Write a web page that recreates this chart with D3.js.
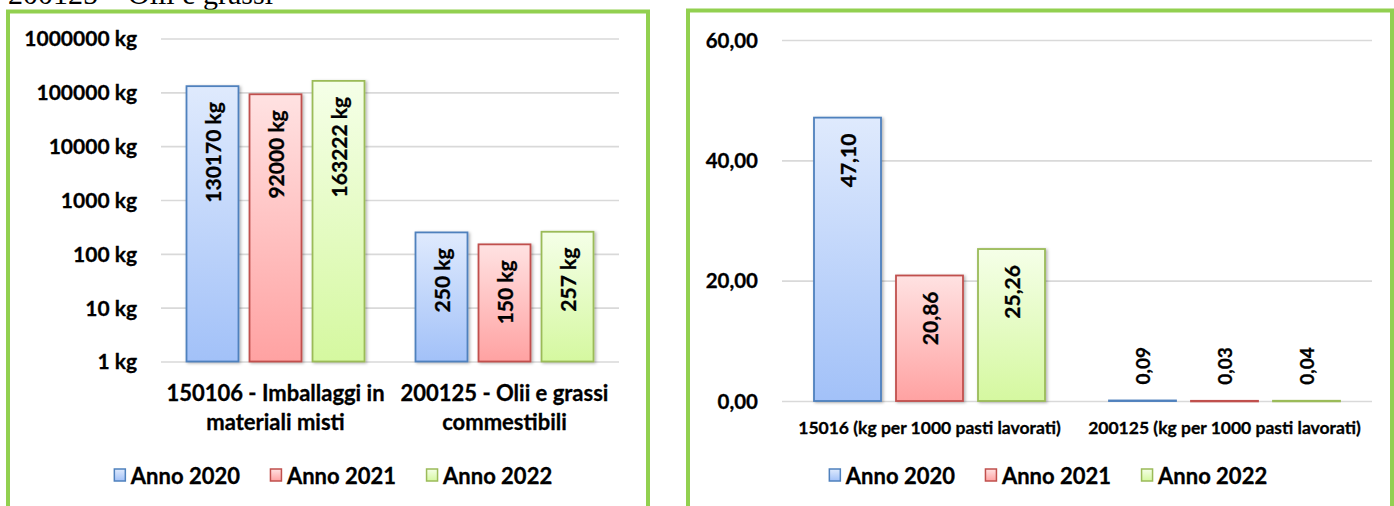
<!DOCTYPE html>
<html><head><meta charset="utf-8">
<script src="https://cdn.jsdelivr.net/npm/d3@7/dist/d3.min.js"></script>
<style>
html,body{margin:0;padding:0;background:#fff;}
svg{display:block;font-family:Lato,"Open Sans",sans-serif;}
.bt{stroke:#000;stroke-width:0.3px;}
</style></head>
<body>
<svg id="c" width="1394" height="506"></svg>
<script>
// ---------- data ----------
const series = ["Anno 2020", "Anno 2021", "Anno 2022"];
const kgCategories = [["150106 - Imballaggi in", "materiali misti"], ["200125 - Olii e grassi", "commestibili"]];
const kg2020 = [130170, 250];
const kg2021 = [92000, 150];
const kg2022 = [163222, 257];
const kgTicks = [1, 10, 100, 1000, 10000, 100000, 1000000];

const rateCategories = [["15016 (kg per 1000 pasti lavorati)"], ["200125 (kg per 1000 pasti lavorati)"]];
const rate2020 = [47.10, 0.09];
const rate2021 = [20.86, 0.03];
const rate2022 = [25.26, 0.04];
const rateTicks = [0, 20, 40, 60];

const headingText = "200125 \u2013 Olii e grassi";

// ---------- styles ----------
const fills = [["#dfeafd", "#a2c1f8"], ["#ffe2e2", "#ffa2a2"], ["#f5ffe8", "#d5f8a0"]];
const strokes = ["#4f81bd", "#c0504d", "#9bbb59"];
const itLocale = d3.formatLocale({decimal: ",", thousands: ".", grouping: [3], currency: ["", "€"]});
const f2 = itLocale.format(".2f");

const svg = d3.select("#c");
const defs = svg.append("defs");
fills.forEach((c, i) => {
  const g = defs.append("linearGradient").attr("id", "g" + i).attr("x1", 0).attr("y1", 0).attr("x2", 0).attr("y2", 1);
  g.append("stop").attr("offset", "0%").attr("stop-color", c[0]);
  g.append("stop").attr("offset", "100%").attr("stop-color", c[1]);
});
const sh = defs.append("filter").attr("id", "sh").attr("x", "-20%").attr("y", "-20%").attr("width", "140%").attr("height", "140%");
sh.append("feDropShadow").attr("dx", 1.5).attr("dy", 1).attr("stdDeviation", 1.5).attr("flood-color", "#000").attr("flood-opacity", 0.3);

svg.append("rect").attr("width", 1394).attr("height", 506).attr("fill", "#fff");

// heading text of the surrounding document, cut at the top as in the reference
svg.append("text").attr("x", 8).attr("y", 4).attr("font-family", "'Liberation Serif','Times New Roman',serif")
  .attr("font-size", 30).attr("fill", "#000").text(headingText);

// panel borders
svg.append("rect").attr("x", 8).attr("y", 11.5).attr("width", 640).attr("height", 520)
  .attr("fill", "none").attr("stroke", "#92d050").attr("stroke-width", 4);
svg.append("rect").attr("x", 688).attr("y", 10.5).attr("width", 704).attr("height", 520)
  .attr("fill", "none").attr("stroke", "#92d050").attr("stroke-width", 4);

function drawChart(cfg) {
  const g = svg.append("g");
  const x0 = d3.scaleBand().domain(d3.range(cfg.categories.length)).range([cfg.x0, cfg.x1]).padding(0);
  const gw = cfg.groupWidth;
  const off = (x0.bandwidth() - gw) / 2;
  const x1 = d3.scaleBand().domain(d3.range(series.length)).range([off, off + gw]).paddingInner(cfg.pin).paddingOuter(0);
  const y = cfg.y;

  // gridlines + tick labels
  const ax = g.append("g").attr("transform", `translate(${cfg.x0},0)`)
    .call(d3.axisLeft(y).tickValues(cfg.ticks).tickFormat(cfg.tickFmt).tickSize(-(cfg.x1 - cfg.x0)).tickPadding(24));
  ax.select(".domain").remove();
  ax.selectAll(".tick line").attr("stroke", "#d9d9d9").attr("stroke-width", 1.6);
  ax.selectAll(".tick text").attr("class", "bt").attr("fill", "#000").attr("font-family", "Lato").attr("font-weight", "bold")
    .attr("font-size", cfg.tickSize).attr("dy", "0.35em");

  const base = y(cfg.baseValue);
  cfg.values.forEach((vals, si) => {
    vals.forEach((v, ci) => {
      const bx = x0(ci) + x1(si);
      const bw = x1.bandwidth();
      const top = y(v);
      g.append("rect").attr("x", bx).attr("y", top).attr("width", bw).attr("height", Math.max(0.6, base - top))
        .attr("fill", `url(#g${si})`).attr("stroke", strokes[si]).attr("stroke-width", 1.8)
        .attr("filter", base - top > 5 ? "url(#sh)" : null);
      const cx = bx + bw / 2;
      const inside = base - top > 70;
      const t = g.append("text").attr("class", "bt").attr("font-weight", "bold").attr("fill", "#000")
        .attr("dominant-baseline", "central").text(cfg.labelFmt(v));
      if (inside) {
        t.attr("font-size", cfg.labelSize).attr("text-anchor", "end")
          .attr("transform", `translate(${cx},${top + 16}) rotate(-90)`);
      } else {
        t.attr("font-size", cfg.outLabelSize).attr("text-anchor", "start")
          .attr("transform", `translate(${cx},${top - 16}) rotate(-90)`);
      }
    });
  });

  // category labels
  cfg.categories.forEach((lines, ci) => {
    const cx = x0(ci) + x0.bandwidth() / 2;
    lines.forEach((ln, li) => {
      g.append("text").attr("class", "bt").attr("x", cx).attr("y", cfg.catY + li * cfg.catLH).attr("text-anchor", "middle")
        .attr("dominant-baseline", "central").attr("font-weight", "bold").attr("font-size", cfg.catSize)
        .attr("fill", "#000").text(ln);
    });
  });

  // legend
  const lg = g.append("g");
  let cur = 0;
  series.forEach((s, si) => {
    const it = lg.append("g").attr("transform", `translate(${cur},0)`);
    it.append("rect").attr("x", 0.5).attr("y", -6).attr("width", 11).attr("height", 12)
      .attr("fill", `url(#g${si})`).attr("stroke", strokes[si]).attr("stroke-width", 1.5);
    const tx = it.append("text").attr("class", "bt").attr("x", 17).attr("y", 0).attr("dominant-baseline", "central")
      .attr("font-weight", "bold").attr("font-size", cfg.legSize).attr("fill", "#000").text(s);
    cur += 17 + tx.node().getComputedTextLength() + 30;
  });
  const total = cur - 30;
  lg.attr("transform", `translate(${cfg.legCx - total / 2},${cfg.legY})`);
}

drawChart({
  categories: kgCategories, values: [kg2020, kg2021, kg2022],
  x0: 161, x1: 619, groupWidth: 178, pin: 0.175,
  y: d3.scaleLog().domain([1, 1000000]).range([361.5, 38.5]),
  baseValue: 1, ticks: kgTicks, tickFmt: d => d + " kg", tickSize: 21,
  labelFmt: d => d + " kg", labelSize: 21, outLabelSize: 21,
  catY: 392, catLH: 29, catSize: 22,
  legCx: 333, legY: 475, legSize: 22
});

drawChart({
  categories: rateCategories, values: [rate2020, rate2021, rate2022],
  x0: 782, x1: 1372, groupWidth: 231, pin: 0.183,
  y: d3.scaleLinear().domain([0, 60]).range([401, 40]),
  baseValue: 0, ticks: rateTicks, tickFmt: f2, tickSize: 20.5,
  labelFmt: f2, labelSize: 21, outLabelSize: 19,
  catY: 427, catLH: 0, catSize: 17.5,
  legCx: 1048, legY: 475, legSize: 22
});
</script>
</body></html>
